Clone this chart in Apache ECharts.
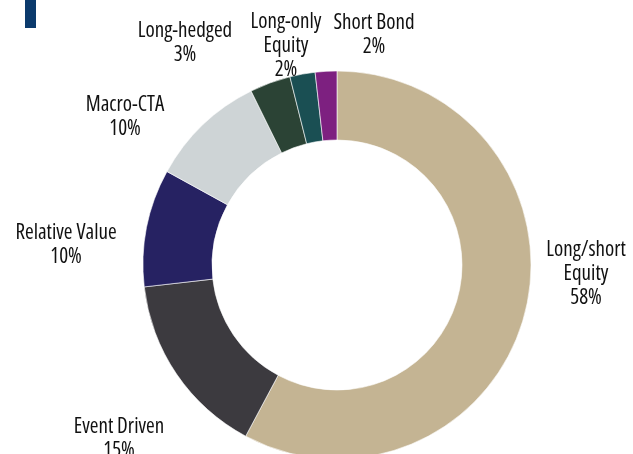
<!DOCTYPE html>
<html>
<head>
<meta charset="utf-8">
<script src="https://cdn.jsdelivr.net/npm/echarts@6/dist/echarts.min.js"></script>
<style>
html,body{margin:0;padding:0;background:#fff;}
#chart{width:633px;height:454px;}
</style>
</head>
<body>
<div id="chart"></div>
<script>
const categories = ['Long/short\nEquity', 'Event Driven', 'Relative Value', 'Macro-CTA', 'Long-hedged', 'Long-only\nEquity', 'Short Bond'];
const values = [57.8, 15.4, 9.8, 9.7, 3.4, 2.1, 1.8];
const colors = ['#C4B493', '#3C3A3F', '#262262', '#CED4D6', '#2B4335', '#1A4F53', '#7D2080'];

// label anchor points (text block centers), in px
const labelAnchors = [[586, 274], [119, 439], [66, 245], [125, 117], [185, 43], [286, 46], [374, 35]];

const chart = echarts.init(document.getElementById('chart'), null, {renderer: 'canvas'});
chart.setOption({
  animation: false,
  backgroundColor: '#fff',
  graphic: [{
    type: 'rect',
    shape: {x: 25, y: 0, width: 11, height: 28},
    style: {fill: '#0B3A6C'}
  }],
  series: [{
    type: 'pie',
    radius: [125, 194],
    center: [337, 265],
    startAngle: 90,
    clockwise: true,
    avoidLabelOverlap: false,
    itemStyle: {borderColor: '#ffffff', borderWidth: 0.6},
    label: {
      show: true,
      position: 'outside',
      formatter: p => p.name + '\n' + Math.round(p.value) + '%',
      fontFamily: "'Open Sans', sans-serif",
      fontWeight: 'condensed',
      fontSize: 21,
      lineHeight: 24,
      color: '#111111',
      align: 'center'
    },
    labelLine: {show: false},
    labelLayout: function (params) {
      const a = labelAnchors[params.dataIndex];
      return {x: a[0], y: a[1], align: 'center', verticalAlign: 'middle'};
    },
    emphasis: {disabled: true},
    data: categories.map((c, i) => ({name: c, value: values[i], itemStyle: {color: colors[i]}}))
  }]
});
</script>
</body>
</html>
